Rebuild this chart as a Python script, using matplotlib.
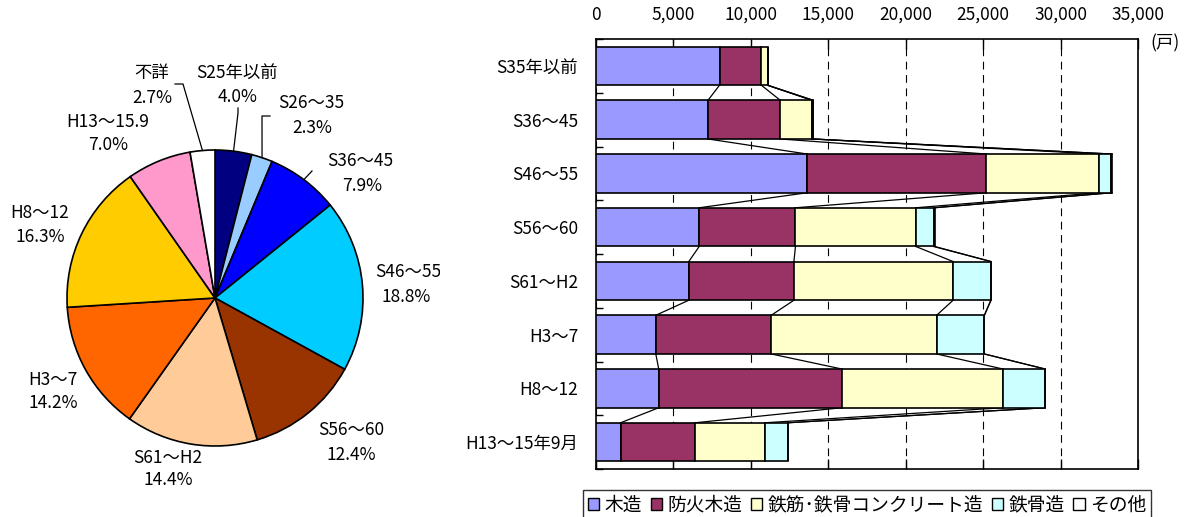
import numpy as np
import matplotlib
matplotlib.use('Agg')
import matplotlib.pyplot as plt
from matplotlib.patches import Patch
from matplotlib.ticker import FuncFormatter, MultipleLocator

plt.rcParams['font.family'] = ['Noto Sans CJK JP', 'DejaVu Sans']

# pie: share of houses by construction period
pie_labels = ['S25年以前', 'S26～35', 'S36～45', 'S46～55', 'S56～60',
              'S61～H2', 'H3～7', 'H8～12', 'H13～15.9', '不詳']
pie_pct = [4.0, 2.3, 7.9, 18.8, 12.4, 14.4, 14.2, 16.3, 7.0, 2.7]
pie_colors = ['#000080', '#99CCFF', '#0000FF', '#00CCFF', '#993300',
              '#FFCC99', '#FF6600', '#FFCC00', '#FF99CC', '#FFFFFF']

# bars: houses by structure (戸)
periods = ['S35年以前', 'S36～45', 'S46～55', 'S56～60', 'S61～H2',
           'H3～7', 'H8～12', 'H13～15年9月']
structures = ['木造', '防火木造', '鉄筋･鉄骨コンクリート造', '鉄骨造', 'その他']
wood = [8000, 7260, 13660, 6690, 6020, 3890, 4080, 1620]
fireproof = [2700, 4660, 11560, 6210, 6780, 7450, 11820, 4800]
rc = [400, 2030, 7260, 7760, 10270, 10670, 10390, 4510]
steel = [0, 60, 810, 1150, 2440, 3080, 2720, 1480]
other = [0, 40, 30, 70, 0, 0, 0, 0]
bar_colors = ['#9999FF', '#993366', '#FFFFCC', '#CCFFFF', '#FFFFFF']

W, H = 1200, 517
FS = 12.5
fig = plt.figure(figsize=(12, 5.17), dpi=100)

# ---------- pie ----------
axp = fig.add_axes([0, 0, 440 / W, 1])
cx, cy, r = 215, H - 298, 148
axp.pie(pie_pct, colors=pie_colors, startangle=90, counterclock=False,
        center=(cx, cy), radius=r, frame=True,
        wedgeprops=dict(edgecolor='black', linewidth=1.2))
axp.set_xlim(0, 440)
axp.set_ylim(0, H)
axp.set_aspect('auto')
axp.axis('off')

# label positions (pixel coords from top-left): name, percent
name_pos = [(237, 73), (311, 103), (360, 161), (408, 272), (351, 430),
            (168, 458), (53, 380), (40, 213), (108, 122), (152, 73)]
pct_pos = [(238, 97), (312, 128), (362, 186), (406, 297), (351, 455),
           (168, 480), (53, 403), (40, 237), (108, 145), (152, 98)]
for lab, p, npos, ppos in zip(pie_labels, pie_pct, name_pos, pct_pos):
    axp.text(npos[0], H - npos[1], lab, fontsize=FS, ha='center', va='center',
             clip_on=True)
    axp.text(ppos[0], H - ppos[1], f'{p:.1f}%', fontsize=FS, ha='center',
             va='center', clip_on=True)

# leader lines for the small slices
cum = np.cumsum([0] + pie_pct)
mid = (cum[:-1] + cum[1:]) / 2
ang = np.deg2rad(90 - mid / 100 * 360)
edge = [(cx + r * np.cos(a), cy + r * np.sin(a)) for a in ang]
leaders = {9: [(175, 84), (183, 84)], 0: [(238, 108), (238, 113)],
           1: [(270, 116), (262, 116)], 2: [(312, 171)]}
for i, pts in leaders.items():
    xs = [p[0] for p in pts] + [edge[i][0]]
    ys = [H - p[1] for p in pts] + [edge[i][1]]
    axp.plot(xs, ys, color='black', lw=0.9)

# ---------- stacked bars ----------
x0, x1, y0, y1 = 595.5, 1138, 39, 469
ax = fig.add_axes([x0 / W, 1 - y1 / H, (x1 - x0) / W, (y1 - y0) / H])
series = [wood, fireproof, rc, steel, other]
ypos = np.arange(len(periods))
bh = 0.72
left = np.zeros(len(periods))
bounds = []
for vals, col in zip(series, bar_colors):
    vals = np.array(vals, dtype=float)
    ax.barh(ypos, vals, left=left, height=bh, color=col, edgecolor='black',
            linewidth=1.2, zorder=3)
    left = left + vals
    bounds.append(left.copy())

# series lines connecting the bars
for b in bounds:
    for i in range(len(periods) - 1):
        ax.plot([b[i], b[i + 1]], [ypos[i] + bh / 2, ypos[i + 1] - bh / 2],
                color='black', lw=0.9, zorder=2)

ax.set_xlim(0, 35000)
ax.set_ylim(len(periods) - 0.5, -0.5)
ax.xaxis.tick_top()
ax.xaxis.set_major_locator(MultipleLocator(5000))
ax.xaxis.set_major_formatter(FuncFormatter(lambda v, p: f'{int(v):,}'))
ax.tick_params(axis='x', which='major', direction='in', length=7, width=1,
               top=True, bottom=True, labelsize=FS, pad=11)
ax.set_yticks(ypos)
ax.set_yticklabels(periods)
ax.set_yticks(np.arange(len(periods) + 1) - 0.5, minor=True)
ax.tick_params(axis='y', which='major', length=0, pad=12.5, labelsize=FS)
ax.tick_params(axis='y', which='minor', direction='in', length=5, width=1)
ax.grid(axis='x', color='black', linestyle=(0, (7, 5)), linewidth=0.8, zorder=1)
for s in ax.spines.values():
    s.set_linewidth(1.2)
fig.text(1165 / W, 1 - 43 / H, '(戸)', fontsize=FS, ha='center', va='center')

handles = [Patch(facecolor=c, edgecolor='black', linewidth=1) for c in bar_colors]
leg = fig.legend(handles, structures, loc='lower left',
                 bbox_to_anchor=(583 / W, 1 - 520 / H), ncol=5, fontsize=13.5,
                 handlelength=0.6, handleheight=0.6, handletextpad=0.3,
                 columnspacing=0.45, borderpad=0.25, borderaxespad=0,
                 frameon=True, fancybox=False)
leg.get_frame().set_edgecolor('black')
leg.get_frame().set_linewidth(1)

fig.savefig('out.png', dpi=100)
